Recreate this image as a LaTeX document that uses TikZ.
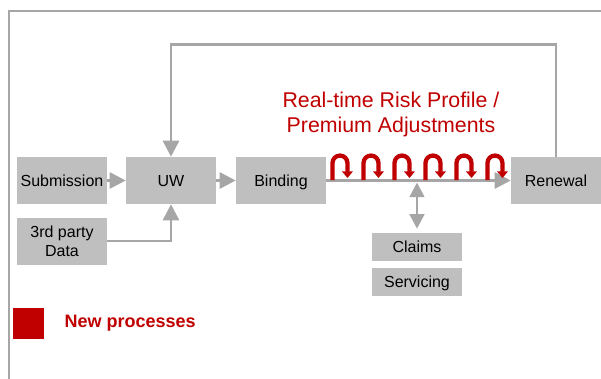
\documentclass[tikz,border=0pt]{standalone}
\usepackage{fontspec}
\setmainfont{Liberation Sans}
\usetikzlibrary{arrows.meta}
\definecolor{boxgray}{HTML}{BFBFBF}
\definecolor{linegray}{HTML}{A6A6A6}
\definecolor{newred}{HTML}{C00000}
\begin{document}
\begin{tikzpicture}[x=0.75pt,y=-0.75pt,
  box/.style={fill=boxgray,align=center,inner sep=0pt,text depth=0pt,font=\fontsize{12}{14}\selectfont,minimum width=67.5pt,minimum height=35.25pt},
  small/.style={box,minimum height=21pt},
  flow/.style={draw=linegray,line width=2pt,-{Triangle[length=12pt,width=12pt]}},
  frame/.style={draw=linegray,line width=1.5pt},
  redarc/.style={draw=newred,line width=3.2pt,-{Triangle[length=5pt,width=8pt]}}]
\useasboundingbox (0,0) rectangle (601,379);
\draw[frame] (601,11) -- (9,11) -- (9,379);
\node[box] (sub) at (62,180.5) {Submission};
\node[box] (uw) at (171,180.5) {UW};
\node[box] (bind) at (281,180.5) {Binding};
\node[box] (ren) at (556,180.5) {Renewal};
\node[box] (third) at (62,241) {3rd party\\Data};
\node[small] (claims) at (417,247) {Claims};
\node[small] (serv) at (417,281.5) {Servicing};
\node[text=newred,align=center,font=\fontsize{16}{18.75}\selectfont] (title) at (391,114) {Real-time Risk Profile /\\Premium Adjustments};
\coordinate (jn) at (claims.north |- bind.east);
\draw[flow] (sub) -- (uw);
\draw[flow] (uw) -- (bind);
\draw[flow] (bind) -- (ren);
\draw[flow] (third.east) -| (uw.south);
\draw[flow] (ren.north) -- ++(0,-112) -| (uw.north);
\draw[flow,{Triangle[length=11pt,width=11pt]}-{Triangle[length=11pt,width=11pt]},shorten <=1.5pt,shorten >=3pt] (jn) -- (claims.north);
% six adjustment loops
\foreach \x in {330,361,392,423,454,485}
  \draw[redarc] (\x+2.5,180) -- (\x+2.5,163) arc[start angle=180,end angle=0,radius=5.6pt] -- (\x+17.5,178);
\fill[newred] (13,308) rectangle (44,339);
\node[text=newred,anchor=west,font=\fontsize{13.5}{16}\selectfont\bfseries] (legend) at (60,323.5) {New processes};
\end{tikzpicture}
\end{document}
